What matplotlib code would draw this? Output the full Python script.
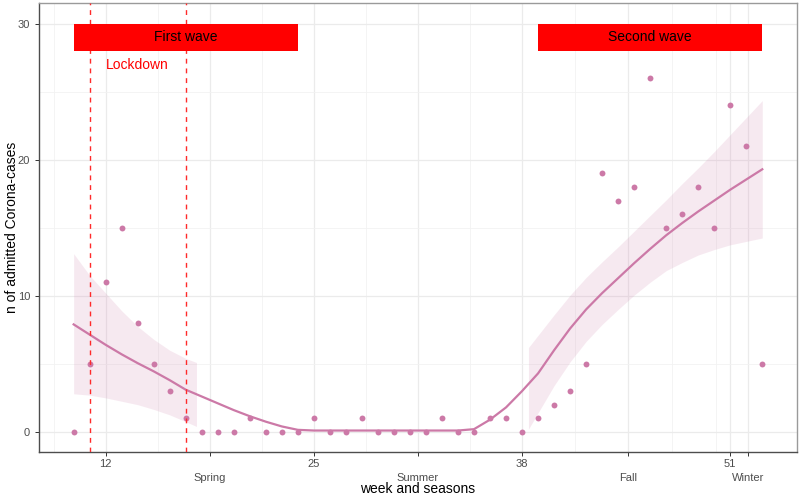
import numpy as np
import matplotlib
matplotlib.use("Agg")
import matplotlib.pyplot as plt

plt.rcParams['font.family'] = ['Liberation Sans', 'DejaVu Sans']

# weekly admitted cases
weeks = list(range(10, 54))
cases = [0, 5, 11, 15, 8, 5, 3, 1, 0, 0, 0, 1, 0, 0, 0, 1, 0, 0, 1, 0, 0, 0,
         0, 1, 0, 0, 1, 1, 0, 1, 2, 3, 5, 19, 17, 18, 26, 15, 16, 18, 15, 24,
         21, 5]

# smoothed fit
fit = [7.9, 7.15, 6.4, 5.7, 5.05, 4.45, 3.8, 3.1, 2.6, 2.1, 1.6, 1.15, 0.75,
       0.4, 0.15, 0.1, 0.1, 0.1, 0.1, 0.1, 0.1, 0.1, 0.1, 0.1, 0.1, 0.2, 0.9,
       1.8, 3.0, 4.3, 6.0, 7.6, 9.0, 10.2, 11.3, 12.4, 13.45, 14.45, 15.35,
       16.2, 17.0, 17.8, 18.55, 19.3]

# confidence bands (only drawn where above 0)
band1_weeks = [10, 11, 12, 13, 14, 15, 16, 17, 17.67]
band1_hi = [13.1, 11.5, 10.2, 8.9, 7.75, 6.8, 6.0, 5.4, 5.1]
band1_lo = [2.8, 2.7, 2.5, 2.25, 2.0, 1.65, 1.25, 0.75, 0.4]
band2_weeks = [38.4, 39, 40, 41, 42, 43, 44, 45, 46, 47, 48, 49, 50, 51, 52, 53]
band2_hi = [6.2, 7.1, 8.6, 10.05, 11.35, 12.5, 13.6, 14.75, 15.9, 17.05,
            18.25, 19.4, 20.6, 21.85, 23.1, 24.35]
band2_lo = [0.2, 1.4, 3.4, 5.15, 6.65, 7.9, 9.0, 10.05, 11.0, 11.85, 12.45,
            13.0, 13.4, 13.75, 14.0, 14.25]

lockdown = [11, 17]
wave_names = ["First wave", "Second wave"]
wave_start = [10, 39]
wave_end = [24, 53]
wave_low, wave_high = 28, 30

week_ticks = [12, 25, 38, 51]
season_ticks = [18.5, 31.5, 44.6, 52.1]
seasons = ["Spring", "Summer", "Fall", "Winter"]
minor_x = [8.75, 15.25, 21.75, 28.25, 34.75, 41.3, 47.35, 50.1]

col = '#CC79A7'

fig = plt.figure(figsize=(8, 4.99), dpi=100)
ax = fig.add_axes([0.049, 0.0936, 0.9469, 0.8998])

ax.fill_between(band1_weeks, band1_lo, band1_hi, color=col, alpha=0.16, lw=0)
ax.fill_between(band2_weeks, band2_lo, band2_hi, color=col, alpha=0.16, lw=0)
ax.plot(weeks, fit, color=col, lw=1.6, zorder=3)
ax.scatter(weeks, cases, s=18, color=col, zorder=4, linewidths=0)

for w in lockdown:
    ax.axvline(w, color='#ff2a2a', lw=1.0, ls=(0, (3.5, 3.5)), zorder=5)

for name, a, b in zip(wave_names, wave_start, wave_end):
    ax.fill_between([a, b], wave_low, wave_high, color='red', lw=0, zorder=6)
    ax.text((a + b) / 2, (wave_low + wave_high) / 2, name, ha='center',
            va='center', fontsize=10, color='black', zorder=7)

ax.text(14, 27, "Lockdown", color='red', fontsize=10, ha='center', va='center')

ax.set_xlim(7.85, 55.15)
ax.set_ylim(-1.5, 31.5)

ax.set_xticks(week_ticks)
ax.set_xticklabels([str(t) for t in week_ticks])
ax.set_xticks(season_ticks, minor=True)
ax.set_xticklabels(seasons, minor=True)
ax.set_yticks([0, 10, 20, 30])
ax.set_yticks([5, 15, 25], minor=True)

ax.grid(True, which='major', color='#ebebeb', lw=0.9, zorder=0)
ax.grid(True, which='minor', axis='x', color='#ebebeb', lw=0.9, zorder=0)
ax.grid(True, which='minor', axis='y', color='#f2f2f2', lw=0.6, zorder=0)
for m in minor_x:
    ax.axvline(m, color='#f2f2f2', lw=0.6, zorder=0)
ax.set_axisbelow(True)

ax.tick_params(which='both', labelsize=8, labelcolor='#4d4d4d',
               color='#333333', length=3, width=0.7)
ax.tick_params(axis='x', which='major', pad=2)
ax.tick_params(axis='x', which='minor', pad=12)
ax.tick_params(axis='y', which='minor', length=0)

for side in ['left', 'bottom']:
    ax.spines[side].set_color('#4d4d4d')
for side in ['top', 'right']:
    ax.spines[side].set_color('#9a9a9a')
for sp in ax.spines.values():
    sp.set_linewidth(1.0)

ax.set_xlabel("week and seasons", fontsize=10)
ax.xaxis.set_label_coords(0.5, -0.066)
ax.set_ylabel("n of admitted Corona-cases", fontsize=10)
ax.yaxis.set_label_coords(-0.027, 0.5)

fig.savefig("out.png", dpi=100)
